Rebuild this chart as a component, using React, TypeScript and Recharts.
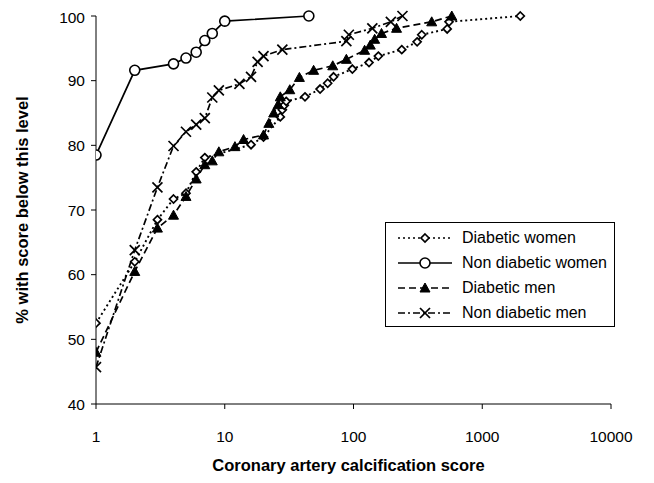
import React from "react";
import { LineChart, Line, XAxis, YAxis, Legend } from "recharts";

const seriesNames = ["Diabetic women", "Non diabetic women", "Diabetic men", "Non diabetic men"];

const dwX = [1, 2, 3, 4, 5, 6, 7, 16, 20, 27, 28, 29, 30, 42, 55, 63, 70, 98, 132, 156, 237, 312, 339, 534, 552, 1975];
const dwY = [52.5, 62, 68.5, 71.7, 72.6, 75.9, 78.1, 80.1, 81.3, 84.4, 85.5, 86.2, 86.8, 87.5, 88.7, 89.6, 90.6, 91.8, 92.8, 93.8, 94.8, 96, 97.1, 98, 99.1, 100];

const ndwX = [1, 2, 4, 5, 6, 7, 8, 10, 45];
const ndwY = [78.5, 91.6, 92.6, 93.5, 94.4, 96.2, 97.3, 99.2, 100];

const dmX = [1, 2, 3, 4, 5, 6, 7, 8, 9, 12, 14, 20, 22, 24, 26, 27, 32, 38, 49, 69, 88, 122, 135, 146, 165, 216, 405, 580];
const dmY = [48, 60.5, 67.2, 69.2, 72.1, 74.8, 77, 77.6, 79, 79.8, 80.9, 81.6, 83.4, 85, 86.3, 87.5, 88.6, 90.5, 91.6, 92.3, 93.3, 94.7, 95.5, 96.4, 97.3, 98.1, 99.1, 100];

const ndmX = [1, 2, 3, 4, 5, 6, 7, 8, 9, 13, 16, 18, 20, 28, 88, 92, 140, 195, 240];
const ndmY = [45.7, 63.8, 73.5, 79.9, 82.1, 83.2, 84.2, 87.4, 88.5, 89.5, 90.6, 92.9, 93.8, 94.8, 96.1, 97.1, 98.1, 99.1, 100];

const xTicks = [1, 10, 100, 1000, 10000];
const yTicks = [40, 50, 60, 70, 80, 90, 100];

const zip = (xs: number[], ys: number[]) => xs.map((x, i) => ({ x, y: ys[i] }));
const dwData = zip(dwX, dwY);
const ndwData = zip(ndwX, ndwY);
const dmData = zip(dmX, dmY);
const ndmData = zip(ndmX, ndmY);

const FONT = "'Liberation Sans', Arial, sans-serif";

const Diamond = (p: any) => {
  const { cx, cy } = p;
  if (cx == null || cy == null) return null;
  const s = 4;
  return <polygon key={`d${cx}-${cy}`} points={`${cx},${cy - s} ${cx + s},${cy} ${cx},${cy + s} ${cx - s},${cy}`} fill="#fff" stroke="#000" strokeWidth={1.7} />;
};
const Circ = (p: any) => {
  const { cx, cy } = p;
  if (cx == null || cy == null) return null;
  return <circle key={`c${cx}-${cy}`} cx={cx} cy={cy} r={5} fill="#fff" stroke="#000" strokeWidth={1.6} />;
};
const Tri = (p: any) => {
  const { cx, cy } = p;
  if (cx == null || cy == null) return null;
  const s = 5;
  return <polygon key={`t${cx}-${cy}`} points={`${cx},${cy - s} ${cx + s},${cy + s * 0.8} ${cx - s},${cy + s * 0.8}`} fill="#000" stroke="#000" strokeWidth={1} />;
};
const Cross = (p: any) => {
  const { cx, cy } = p;
  if (cx == null || cy == null) return null;
  const s = 5;
  return (
    <g key={`x${cx}-${cy}`}>
      <line x1={cx - s} y1={cy - s} x2={cx + s} y2={cy + s} stroke="#000" strokeWidth={1.7} />
      <line x1={cx - s} y1={cy + s} x2={cx + s} y2={cy - s} stroke="#000" strokeWidth={1.7} />
    </g>
  );
};

const styles = [
  { dash: "2 3", marker: Diamond },
  { dash: undefined, marker: Circ },
  { dash: "7 4", marker: Tri },
  { dash: "7 3 2 3", marker: Cross },
];

const LegendBox = () => (
  <div style={{ border: "1px solid #000", width: 230, height: 105, boxSizing: "border-box", background: "#fff", padding: "2px 0 0 10px" }}>
    {seriesNames.map((n, i) => {
      const M = styles[i].marker;
      return (
        <div key={n} style={{ display: "flex", alignItems: "center", height: 25 }}>
          <svg width={58} height={14} style={{ marginRight: 8 }}>
            <line x1={2} y1={7} x2={56} y2={7} stroke="#000" strokeWidth={1.6} strokeDasharray={styles[i].dash} />
            <M cx={29} cy={7} />
          </svg>
          <span style={{ fontFamily: FONT, fontSize: 16, color: "#000" }}>{n}</span>
        </div>
      );
    })}
  </div>
);

const XLabel = (props: any) => {
  const vb = props.viewBox || {};
  return (
    <text x={vb.x + vb.width / 2 - 5} y={463} textAnchor="middle" fontFamily={FONT} fontWeight="bold" fontSize={16.5} fill="#000">
      Coronary artery calcification score
    </text>
  );
};
const YLabel = (props: any) => {
  const vb = props.viewBox || {};
  const cy = vb.y + vb.height / 2;
  return (
    <text x={20} y={cy} transform={`rotate(-90 20 ${cy})`} textAnchor="middle" fontFamily={FONT} fontWeight="bold" fontSize={16.5} fill="#000">
      % with score below this level
    </text>
  );
};

export default function App() {
  return (
    <LineChart width={646} height={475} margin={{ top: 8, right: 43, bottom: 0, left: 0 }}>
      <XAxis
        dataKey="x"
        type="number"
        scale="log"
        domain={[1, 10000]}
        ticks={xTicks}
        allowDataOverflow
        height={79}
        stroke="#000"
        tickSize={5}
        tickMargin={22}
        tick={{ fill: "#000", fontFamily: FONT, fontSize: 15.5 }}
        label={<XLabel />}
      />
      <YAxis
        type="number"
        domain={[40, 100]}
        ticks={yTicks}
        width={88}
        stroke="#000"
        tickSize={5}
        tickMargin={6}
        tick={{ fill: "#000", fontFamily: FONT, fontSize: 15.5 }}
        label={<YLabel />}
      />
      <Legend
        layout="horizontal"
        verticalAlign="middle"
        align="center"
        content={<LegendBox />}
        wrapperStyle={{ position: "absolute", left: 377, top: 214, width: 230, height: 105 }}
      />
      <Line data={dwData} dataKey="y" name={seriesNames[0]} stroke="#000" strokeWidth={1.9} strokeDasharray="2 3" dot={<Diamond />} isAnimationActive={false} />
      <Line data={ndwData} dataKey="y" name={seriesNames[1]} stroke="#000" strokeWidth={1.7} dot={<Circ />} isAnimationActive={false} />
      <Line data={dmData} dataKey="y" name={seriesNames[2]} stroke="#000" strokeWidth={1.7} strokeDasharray="7 4" dot={<Tri />} isAnimationActive={false} />
      <Line data={ndmData} dataKey="y" name={seriesNames[3]} stroke="#000" strokeWidth={1.7} strokeDasharray="7 3 2 3" dot={<Cross />} isAnimationActive={false} />
    </LineChart>
  );
}
